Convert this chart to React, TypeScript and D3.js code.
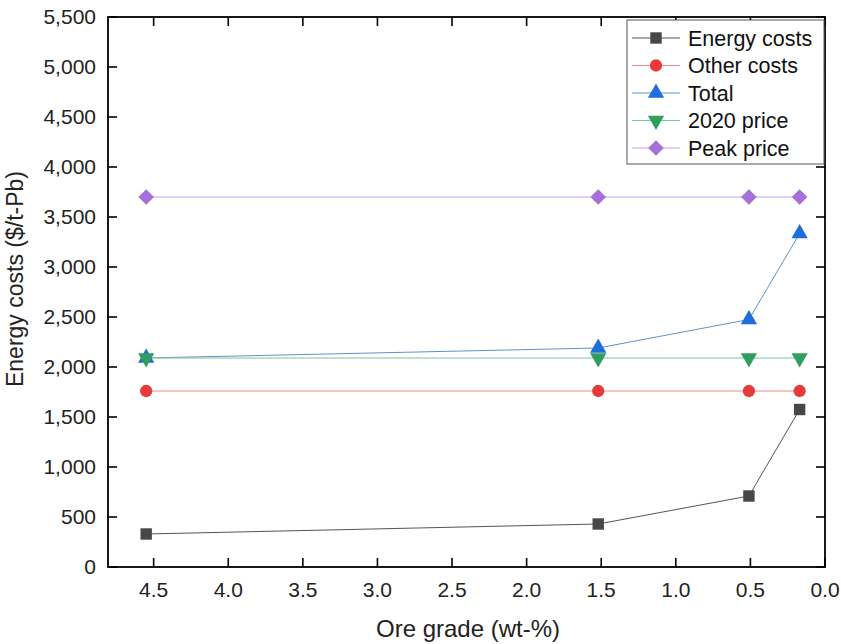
import React, { useEffect, useRef } from 'react';
import * as d3 from 'd3';

// ore grade (wt-%) for each point
const grades = [4.55, 1.52, 0.51, 0.17];

const energyCosts = [330, 430, 710, 1575];
const otherCosts = [1760, 1760, 1760, 1760];
const total = [2090, 2190, 2475, 3335];
const price2020 = [2090, 2090, 2090, 2090];
const peakPrice = [3700, 3700, 3700, 3700];

const seriesNames = ['Energy costs', 'Other costs', 'Total', '2020 price', 'Peak price'];
const xTicks = [4.5, 4.0, 3.5, 3.0, 2.5, 2.0, 1.5, 1.0, 0.5, 0.0];
const yTicks = [0, 500, 1000, 1500, 2000, 2500, 3000, 3500, 4000, 4500, 5000, 5500];

const FONT = '"Liberation Sans", Arial, sans-serif';

export default function App() {
  const ref = useRef<SVGSVGElement>(null);

  useEffect(() => {
    const w = 841, h = 644;
    const m = { top: 17, right: 16, bottom: 77, left: 108 };

    const svg = d3.select(ref.current);
    svg.selectAll('*').remove();
    svg.attr('width', w).attr('height', h).style('background', '#fff');

    const x = d3.scaleLinear().domain([4.806, 0]).range([m.left, w - m.right]);
    const y = d3.scaleLinear().domain([0, 5500]).range([h - m.bottom, m.top]);

    const series = [
      { name: seriesNames[0], values: energyCosts, color: '#474747', line: '#555', sym: d3.symbolSquare, size: 130, rot: 0 },
      { name: seriesNames[1], values: otherCosts, color: '#e63b3b', line: '#eb8a8a', sym: d3.symbolCircle, size: 120, rot: 0 },
      { name: seriesNames[2], values: total, color: '#1d6ddb', line: '#5b93c9', sym: d3.symbolTriangle, size: 115, rot: 0 },
      { name: seriesNames[3], values: price2020, color: '#2f9e5f', line: '#7cc49b', sym: d3.symbolTriangle, size: 115, rot: 180 },
      { name: seriesNames[4], values: peakPrice, color: '#a66fd9', line: '#c4a3e6', sym: d3.symbolSquare, size: 122, rot: 45 },
    ];

    const x0 = m.left, x1 = w - m.right, y0 = h - m.bottom, y1 = m.top;
    const tl = 9;

    // ticks, inward on all four sides
    const tg = svg.append('g').attr('stroke', '#000').attr('stroke-width', 1.6);
    xTicks.forEach(t => {
      const px = x(t);
      tg.append('line').attr('x1', px).attr('x2', px).attr('y1', y0).attr('y2', y0 - tl);
      tg.append('line').attr('x1', px).attr('x2', px).attr('y1', y1).attr('y2', y1 + tl);
    });
    yTicks.forEach(t => {
      const py = y(t);
      tg.append('line').attr('x1', x0).attr('x2', x0 + tl).attr('y1', py).attr('y2', py);
      tg.append('line').attr('x1', x1).attr('x2', x1 - tl).attr('y1', py).attr('y2', py);
    });

    // frame
    svg.append('rect')
      .attr('x', x0).attr('y', y1)
      .attr('width', x1 - x0).attr('height', y0 - y1)
      .attr('fill', 'none').attr('stroke', '#000').attr('stroke-width', 1.8);

    // tick labels
    svg.append('g').selectAll('text').data(xTicks).enter().append('text')
      .attr('x', d => x(d)).attr('y', y0 + 30)
      .attr('text-anchor', 'middle')
      .attr('font-family', FONT).attr('font-size', 21).attr('fill', '#222')
      .text(d => d.toFixed(1));

    svg.append('g').selectAll('text').data(yTicks).enter().append('text')
      .attr('x', x0 - 12).attr('y', d => y(d)).attr('dy', '0.35em')
      .attr('text-anchor', 'end')
      .attr('font-family', FONT).attr('font-size', 21).attr('fill', '#222')
      .text(d => d3.format(',')(d));

    // axis titles
    svg.append('text')
      .attr('x', 468).attr('y', 637)
      .attr('text-anchor', 'middle')
      .attr('font-family', FONT).attr('font-size', 24).attr('fill', '#222')
      .text('Ore grade (wt-%)');

    svg.append('text')
      .attr('transform', `translate(23,279) rotate(-90)`)
      .attr('text-anchor', 'middle')
      .attr('font-family', FONT).attr('font-size', 23).attr('fill', '#222')
      .text('Energy costs ($/t-Pb)');

    // lines + markers
    const line = d3.line<number>()
      .x((_, i) => x(grades[i]))
      .y(d => y(d));

    series.forEach(s => {
      svg.append('path')
        .attr('d', line(s.values))
        .attr('fill', 'none')
        .attr('stroke', s.line)
        .attr('stroke-width', 1);
    });

    series.forEach(s => {
      const path = d3.symbol().type(s.sym).size(s.size)();
      svg.append('g').selectAll('path').data(s.values).enter().append('path')
        .attr('d', path)
        .attr('transform', (d, i) => `translate(${x(grades[i])},${y(d)}) rotate(${s.rot})`)
        .attr('fill', s.color);
    });

    // legend
    const lg = svg.append('g').attr('transform', 'translate(627,20)');
    lg.append('rect')
      .attr('width', 197).attr('height', 144)
      .attr('fill', '#fff').attr('stroke', '#555').attr('stroke-width', 1);
    series.forEach((s, i) => {
      const cy = 18 + i * 27.5;
      lg.append('line')
        .attr('x1', 5).attr('x2', 53).attr('y1', cy).attr('y2', cy)
        .attr('stroke', s.line).attr('stroke-width', 1);
      lg.append('path')
        .attr('d', d3.symbol().type(s.sym).size(s.size)())
        .attr('transform', `translate(29,${cy}) rotate(${s.rot})`)
        .attr('fill', s.color);
      lg.append('text')
        .attr('x', 61).attr('y', cy).attr('dy', '0.35em')
        .attr('font-family', FONT).attr('font-size', 21.5).attr('fill', '#111')
        .text(s.name);
    });
  }, []);

  return <svg ref={ref} style={{ position: 'absolute', left: 0, top: 0, display: 'block' }}></svg>;
}
